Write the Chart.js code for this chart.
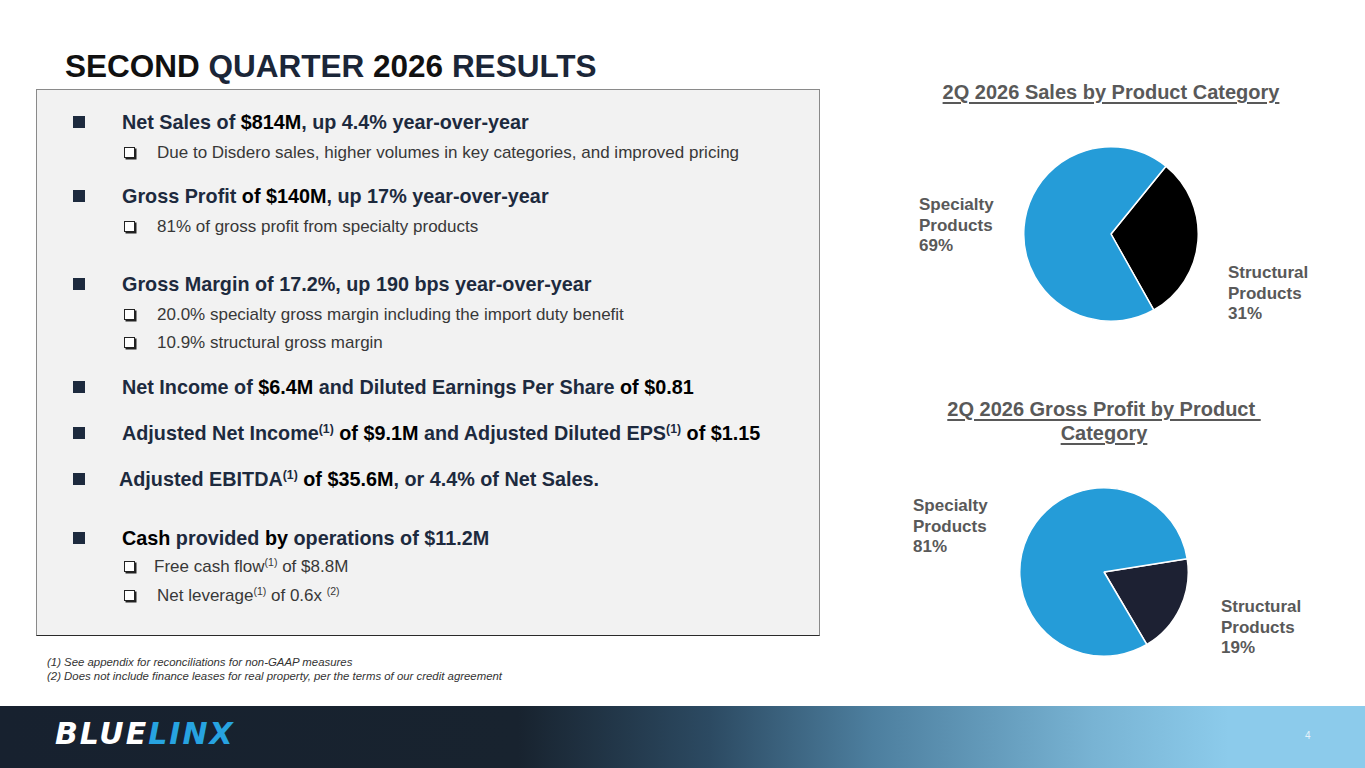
<!DOCTYPE html>
<html>
<head>
<meta charset="utf-8">
<script src="https://cdn.jsdelivr.net/npm/chart.js@4"></script>
<style>
  html, body { margin: 0; padding: 0; }
  body { width: 1365px; height: 768px; position: relative; overflow: hidden; background: #fff;
         font-family: "Liberation Sans", Arial, sans-serif; }
  .abs { position: absolute; white-space: nowrap; }
  .title { left: 65px; top: 51px; font-size: 31.5px; line-height: 31px; font-weight: bold; color: #111; }
  .title .nv { color: #1b2638; }
  .box { left: 36px; top: 89px; width: 782px; height: 545px; background: #f2f2f2;
         border: 1.5px solid #8a8a8a; border-bottom-color: #2a2a2a; }
  .main { font-size: 19.8px; line-height: 24px; font-weight: bold; color: #1d2a3e; }
  .main b { color: #000; }
  .sub { font-size: 17px; line-height: 20px; color: #383838; }
  sup { font-size: 0.62em; line-height: 0; vertical-align: 0.55em; }
  .sq { position: absolute; width: 12px; height: 12px; background: #1d2a3e; }
  .cb { position: absolute; width: 9px; height: 9px; border: 1.5px solid #222; box-shadow: 1.5px 1.5px 0 #222; background: #fff; }
  .ptitle { font-size: 20px; line-height: 24px; font-weight: bold; color: #595959; text-decoration: underline; text-underline-offset: 3px; text-align: center; }
  .plabel { font-size: 17px; line-height: 20.5px; font-weight: bold; color: #595959; }
  .foot { left: 47px; font-size: 11.4px; line-height: 14px; font-style: italic; color: #333; }
  .band { left: 0; top: 706px; width: 1365px; height: 62px;
          background: linear-gradient(90deg, #17212f 0%, #18232f 38%, #2c4a62 52%, #4d7f9f 64%, #78b3d3 80%, #8ccbeb 90%, #8ccbeb 100%); }
  .logo { left: 55px; top: 718px; font-family: "DejaVu Sans", sans-serif; font-size: 30px; line-height: 32px;
          font-weight: bold; font-style: italic; letter-spacing: 2px; color: #fff; }
  .logo span { color: #27a3e0; }
  .pg { left: 1305px; top: 730px; font-size: 10px; color: #e6f2fa; }
  canvas { position: absolute; }
</style>
</head>
<body>

<div class="abs title">SECOND <span class="nv">QUARTER</span> 2026 <span class="nv">RESULTS</span></div>

<div class="abs box"></div>

<!-- left text block -->
<div class="sq" style="left:73px;top:116px"></div>
<div class="abs main" style="left:122px;top:110px">Net Sales of <b>$814M</b>, up 4.4% year-over-year</div>
<div class="cb" style="left:124px;top:147px"></div>
<div class="abs sub" style="left:157px;top:143px">Due to Disdero sales, higher volumes in key categories, and improved pricing</div>

<div class="sq" style="left:73px;top:190px"></div>
<div class="abs main" style="left:122px;top:184px">Gross Profit <b>of $140M</b>, up 17% year-over-year</div>
<div class="cb" style="left:124px;top:221px"></div>
<div class="abs sub" style="left:157px;top:217px">81% of gross profit from specialty products</div>

<div class="sq" style="left:73px;top:278px"></div>
<div class="abs main" style="left:122px;top:272px">Gross Margin of 17.2%, up 190 bps year-over-year</div>
<div class="cb" style="left:124px;top:309px"></div>
<div class="abs sub" style="left:157px;top:305px">20.0% specialty gross margin including the import duty benefit</div>
<div class="cb" style="left:124px;top:337px"></div>
<div class="abs sub" style="left:157px;top:333px">10.9% structural gross margin</div>

<div class="sq" style="left:73px;top:381px"></div>
<div class="abs main" style="left:122px;top:375px">Net Income of <b>$6.4M</b> and Diluted Earnings Per Share <b>of $0.81</b></div>

<div class="sq" style="left:73px;top:427px"></div>
<div class="abs main" style="left:122px;top:421px">Adjusted Net Income<sup>(1)</sup> <b>of $9.1M</b> and Adjusted Diluted EPS<sup>(1)</sup> <b>of $1.15</b></div>

<div class="sq" style="left:73px;top:473px"></div>
<div class="abs main" style="left:119px;top:467px">Adjusted EBITDA<sup>(1)</sup> <b>of $35.6M</b>, or 4.4% of Net Sales.</div>

<div class="sq" style="left:73px;top:532px"></div>
<div class="abs main" style="left:122px;top:526px"><b>Cash</b> provided <b>by</b> operations of $11.2M</div>
<div class="cb" style="left:124px;top:561px"></div>
<div class="abs sub" style="left:154px;top:557px">Free cash flow<sup>(1)</sup> of $8.8M</div>
<div class="cb" style="left:124px;top:590px"></div>
<div class="abs sub" style="left:157px;top:586px">Net leverage<sup>(1)</sup> of 0.6x <sup>(2)</sup></div>

<!-- pie titles -->
<div class="abs ptitle" style="left:911px;width:400px;top:80px">2Q 2026 Sales by Product Category</div>
<div class="abs ptitle" style="left:904px;width:400px;top:397px">2Q 2026 Gross Profit by Product&nbsp;<br>Category</div>

<canvas id="pieSales" width="176" height="176" style="left:1023px;top:146px;width:176px;height:176px"></canvas>
<canvas id="pieProfit" width="170" height="170" style="left:1019px;top:487px;width:170px;height:170px"></canvas>

<div id="labels"></div>

<div class="abs foot" style="top:655px">(1) See appendix for reconciliations for non-GAAP measures</div>
<div class="abs foot" style="top:669px">(2) Does not include finance leases for real property, per the terms of our credit agreement</div>

<div class="abs band"></div>
<div class="abs logo">BLUE<span>LINX</span></div>
<div class="abs pg">4</div>

<script>
// chart data
const categories = ['Structural Products', 'Specialty Products'];
const labelLines = [['Structural', 'Products'], ['Specialty', 'Products']];
const salesShare = [31, 69];
const grossProfitShare = [19, 81];

const salesColors = ['#000000', '#259cd8'];
const profitColors = ['#1d2133', '#259cd8'];

function makePie(canvasId, values, colors, rotation) {
    const ctx = document.getElementById(canvasId);
    return new Chart(ctx, {
        type: 'pie',
        data: {
            labels: categories,
            datasets: [{
                data: values,
                backgroundColor: colors,
                borderColor: '#ffffff',
                borderWidth: 1.5,
                hoverOffset: 0
            }]
        },
        options: {
            responsive: false,
            animation: false,
            rotation: rotation,
            layout: { padding: 0 },
            plugins: { legend: { display: false }, tooltip: { enabled: false } }
        }
    });
}

makePie('pieSales', salesShare, salesColors, 39);
makePie('pieProfit', grossProfitShare, profitColors, 81);

// slice labels, text taken from the arrays above
const labelPos = [
    { values: salesShare, spots: [{ x: 1228, y: 263 }, { x: 919, y: 195 }] },
    { values: grossProfitShare, spots: [{ x: 1221, y: 597 }, { x: 913, y: 496 }] }
];
const holder = document.getElementById('labels');
labelPos.forEach(function (p) {
    p.values.forEach(function (v, i) {
        const d = document.createElement('div');
        d.className = 'abs plabel';
        d.style.left = p.spots[i].x + 'px';
        d.style.top = p.spots[i].y + 'px';
        d.innerHTML = labelLines[i].join('<br>') + '<br>' + v + '%';
        holder.appendChild(d);
    });
});
</script>
</body>
</html>
